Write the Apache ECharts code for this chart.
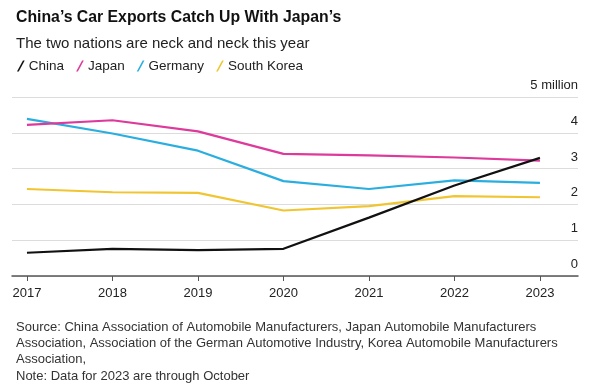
<!DOCTYPE html>
<html><head><meta charset="utf-8">
<script src="https://cdn.jsdelivr.net/npm/echarts@6/dist/echarts.min.js"></script>
<style>html,body{margin:0;padding:0;background:#fff}#c{width:600px;height:386px}</style>
</head><body><div id="c"></div>
<script>
const years = [2017, 2018, 2019, 2020, 2021, 2022, 2023];
const china = [0.65, 0.76, 0.72, 0.76, 1.63, 2.53, 3.3];
const japan = [4.22, 4.35, 4.04, 3.41, 3.37, 3.31, 3.22];
const germany = [4.39, 3.98, 3.5, 2.65, 2.43, 2.67, 2.6];
const korea = [2.43, 2.34, 2.32, 1.83, 1.95, 2.23, 2.2];
const yTicks = [0, 1, 2, 3, 4, 5];
const seriesNames = ['China', 'Japan', 'Germany', 'South Korea'];
const colors = ['#111111', '#dd3a9c', '#2aaee0', '#f0c531'];
const FONT = '"Liberation Sans", Arial, sans-serif';

const chart = echarts.init(document.getElementById('c'), null, {renderer: 'canvas'});
const dataSets = [china, japan, germany, korea];
const icon = 'path://M0,10 L1.6,10 L7,0 L5.4,0 Z';

chart.setOption({
  animation: false,
  textStyle: {fontFamily: FONT},
  title: [
    {text: "China\u2019s Car Exports Catch Up With Japan\u2019s", left: 11, top: 5,
     textStyle: {fontFamily: FONT, fontSize: 15.8, fontWeight: 'bold', color: '#111'}},
    {text: 'The two nations are neck and neck this year', left: 11, top: 31,
     textStyle: {fontFamily: FONT, fontSize: 15, fontWeight: 'normal', color: '#222'}},
    {text: 'Source: China Association of Automobile Manufacturers, Japan Automobile Manufacturers\nAssociation, Association of the German Automotive Industry, Korea Automobile Manufacturers\nAssociation,\nNote: Data for 2023 are through October',
     left: 11, top: 314,
     textStyle: {fontFamily: FONT, fontSize: 13, fontWeight: 'normal', color: '#333', lineHeight: 16.3}}
  ],
  legend: {
    left: 12, top: 54, itemWidth: 8, itemHeight: 11, itemGap: 12,
    icon: icon,
    data: seriesNames.map((n, i) => ({name: n, icon: icon, itemStyle: {color: colors[i]}})),
    textStyle: {fontFamily: FONT, fontSize: 13.5, color: '#222', padding: [0, 0, 0, -1]}
  },
  grid: {left: 12, right: 22, top: 97, bottom: 110, containLabel: false},
  xAxis: {
    type: 'value', min: 2016.825, max: 2023.445,
    axisLine: {show: true, onZero: false, lineStyle: {color: '#555', width: 1.5}},
    axisTick: {show: true, customValues: years, length: 5, lineStyle: {color: '#555', width: 1}},
    axisLabel: {customValues: years, formatter: v => String(v), fontFamily: FONT, fontSize: 13, color: '#222', margin: 11},
    splitLine: {show: false}
  },
  yAxis: {
    type: 'value', position: 'right', min: 0, max: 5, interval: 1,
    axisLine: {show: false}, axisTick: {show: false},
    splitLine: {show: true, lineStyle: {color: '#dcdcdc', width: 1}},
    axisLabel: {inside: true, align: 'right', verticalAlign: 'bottom', margin: 0,
      fontFamily: FONT, fontSize: 13, color: '#222', padding: [0, 0, 5, 0],
      formatter: v => v === 5 ? '5 million' : String(v)}
  },
  series: dataSets.map((d, i) => ({
    name: seriesNames[i], type: 'line', data: years.map((y, j) => [y, d[j]]),
    showSymbol: false, symbol: 'none', lineStyle: {color: colors[i], width: 2.2},
    itemStyle: {color: colors[i]}, z: 10 - i
  }))
});
</script></body></html>
